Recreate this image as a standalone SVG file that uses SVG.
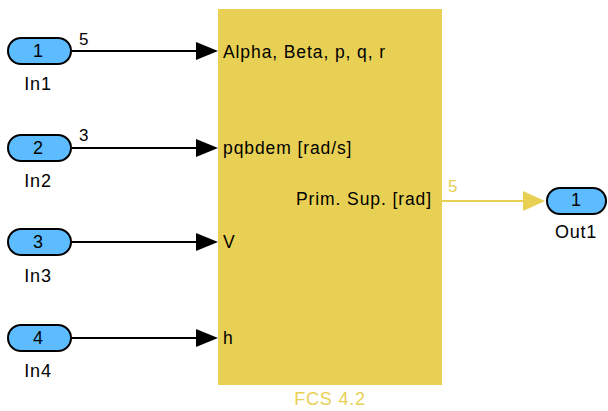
<svg xmlns="http://www.w3.org/2000/svg" width="608" height="411" viewBox="0 0 608 411">
<style>
text{font-family:"Liberation Sans",Arial,sans-serif;}
.port{fill:#5cbcff;stroke:#000;stroke-width:2;}
.pnum{font-size:18px;fill:#000;text-anchor:middle;}
.plbl{font-size:18px;fill:#000;text-anchor:middle;letter-spacing:0.8px;}
.blk{fill:#e8d054;}
.ptxt{font-size:17.5px;fill:#000;letter-spacing:0.9px;}
.sig{font-size:17px;fill:#000;}
.wire{stroke:#000;stroke-width:2;fill:none;}
.ywire{stroke:#e8d054;stroke-width:2;fill:none;}
</style>
<g id="connectors">
<line class="wire" x1="72" y1="51" x2="200" y2="51"/>
<polygon points="196,42 218,51 196,60" fill="#000"/>
<text class="sig" x="79" y="45">5</text>
<line class="wire" x1="72" y1="148" x2="200" y2="148"/>
<polygon points="196,139 218,148 196,157" fill="#000"/>
<text class="sig" x="79" y="141">3</text>
<line class="wire" x1="72" y1="242" x2="200" y2="242"/>
<polygon points="196,233 218,242 196,251" fill="#000"/>
<line class="wire" x1="72" y1="338" x2="200" y2="338"/>
<polygon points="196,329 218,338 196,347" fill="#000"/>
<line class="ywire" x1="442" y1="201" x2="528" y2="201"/>
<polygon points="523,191 545,201 523,211" fill="#e8d054"/>
<text class="sig" x="448" y="192" style="fill:#e8d054">5</text>
</g>
<g id="In1">
<rect class="port" x="8" y="38" width="63" height="26" rx="13"/>
<text class="pnum" x="38" y="57">1</text>
<text class="plbl" x="38" y="90">In1</text>
</g>
<g id="In2">
<rect class="port" x="8" y="135" width="63" height="26" rx="13"/>
<text class="pnum" x="38" y="154">2</text>
<text class="plbl" x="38" y="187">In2</text>
</g>
<g id="In3">
<rect class="port" x="8" y="229" width="63" height="26" rx="13"/>
<text class="pnum" x="38" y="248">3</text>
<text class="plbl" x="38" y="282">In3</text>
</g>
<g id="In4">
<rect class="port" x="8" y="325" width="63" height="26" rx="13"/>
<text class="pnum" x="38" y="344">4</text>
<text class="plbl" x="38" y="377">In4</text>
</g>
<g id="FCS">
<rect class="blk" x="218" y="9" width="224" height="376"/>
<text class="ptxt" x="223" y="58">Alpha, Beta, p, q, r</text>
<text class="ptxt" x="223" y="154">pqbdem [rad/s]</text>
<text class="ptxt" x="223" y="248">V</text>
<text class="ptxt" x="223" y="344">h</text>
<text class="ptxt" x="432" y="205" text-anchor="end">Prim. Sup. [rad]</text>
<text x="330" y="405" text-anchor="middle" style="font-size:18px;fill:#e8d054;letter-spacing:0.8px;">FCS 4.2</text>
</g>
<g id="Out1">
<rect class="port" x="547" y="188" width="59" height="26" rx="13"/>
<text class="pnum" x="576" y="206">1</text>
<text class="plbl" x="576" y="238">Out1</text>
</g>
</svg>
